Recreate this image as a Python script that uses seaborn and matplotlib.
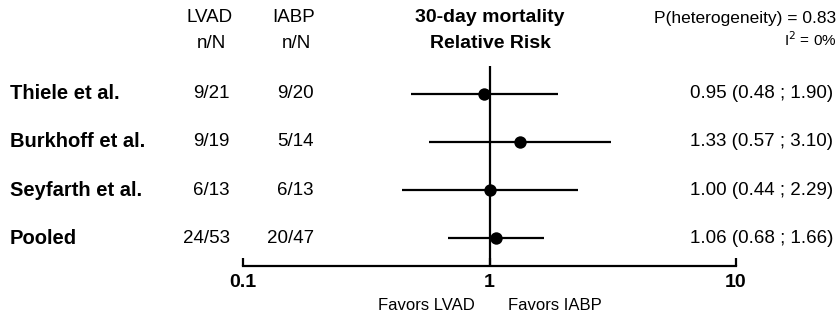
import matplotlib
matplotlib.use("Agg")
import matplotlib.pyplot as plt
import matplotlib.transforms as mtransforms
import seaborn as sns
import pandas as pd

# data
studies = ["Thiele et al.", "Burkhoff et al.", "Seyfarth et al.", "Pooled"]
lvad = ["9/21", "9/19", "6/13", "24/53"]
iabp = ["9/20", "5/14", "6/13", "20/47"]
rr = [0.95, 1.33, 1.00, 1.06]
ci_low = [0.48, 0.57, 0.44, 0.68]
ci_high = [1.90, 3.10, 2.29, 1.66]
ticks = [0.1, 1, 10]
tick_labels = ["0.1", "1", "10"]

sns.set_style("white")
plt.rcParams["font.family"] = ["Liberation Sans", "DejaVu Sans"]
plt.rcParams["text.color"] = "black"
plt.rcParams["xtick.color"] = "black"
plt.rcParams["xtick.labelcolor"] = "black"

df = pd.DataFrame({"study": studies, "rr": rr, "lo": ci_low, "hi": ci_high})
df["row"] = range(len(df))

W, H = 840, 319
fig = plt.figure(figsize=(W / 100, H / 100), dpi=100)
# axes spans exactly 0.1 .. 10 on x
ax = fig.add_axes([243 / W, 53 / H, (736 - 243) / W, 200 / H])

ax.hlines(df["row"], df["lo"], df["hi"], color="black", lw=1.6, zorder=2)
ax.axvline(1, color="black", lw=1.6, zorder=1)
sns.scatterplot(data=df, x="rr", y="row", ax=ax, color="black", s=80,
                edgecolor="black", linewidth=0, zorder=3, legend=False)

ax.set_xscale("log")
ax.set_xlim(0.1, 10)
ax.set_ylim(3.583, -0.583)
ax.set_xticks(ticks)
ax.set_xticklabels(tick_labels, fontweight="bold", fontsize=14, color="black")
ax.minorticks_off()
ax.tick_params(axis="x", direction="in", length=6, width=1.6, pad=6,
               bottom=True, color="black")
ax.set_yticks([])
ax.set_xlabel("")
ax.set_ylabel("")
for s in ["top", "left", "right"]:
    ax.spines[s].set_visible(False)
ax.spines["bottom"].set_linewidth(1.6)
ax.spines["bottom"].set_color("black")

# row texts: x in figure pixels, y in data rows
trans = mtransforms.blended_transform_factory(
    mtransforms.Affine2D().scale(1 / W, 1) + fig.transFigure, ax.transData)
for i, name in enumerate(studies):
    ax.text(10, i, name, transform=trans, ha="left", va="center",
            fontsize=14.5, fontweight="bold", clip_on=False)
    ax.text(230, i, lvad[i], transform=trans, ha="right", va="center",
            fontsize=13.5, clip_on=False)
    ax.text(314, i, iabp[i], transform=trans, ha="right", va="center",
            fontsize=13.5, clip_on=False)
    ax.text(833, i, f"{rr[i]:.2f} ({ci_low[i]:.2f} ; {ci_high[i]:.2f})",
            transform=trans, ha="right", va="center", fontsize=13.5, clip_on=False)

# headers
def ftxt(x, y, s, **kw):
    fig.text(x / W, 1 - y / H, s, va="center", **kw)

ftxt(210, 17, "LVAD", ha="center", fontsize=13.5)
ftxt(211, 43, "n/N", ha="center", fontsize=13.5)
ftxt(294, 17, "IABP", ha="center", fontsize=13.5)
ftxt(296, 43, "n/N", ha="center", fontsize=13.5)
ftxt(490, 17, "30-day mortality", ha="center", fontsize=14, fontweight="bold")
ftxt(490, 43, "Relative Risk", ha="center", fontsize=14, fontweight="bold")
ftxt(836, 18, "P(heterogeneity) = 0.83", ha="right", fontsize=12.5)
ftxt(836, 40, "I$^2$ = 0%", ha="right", fontsize=11)
ftxt(475, 305, "Favors LVAD", ha="right", fontsize=12)
ftxt(508, 305, "Favors IABP", ha="left", fontsize=12)

fig.savefig("out.png", dpi=100)
